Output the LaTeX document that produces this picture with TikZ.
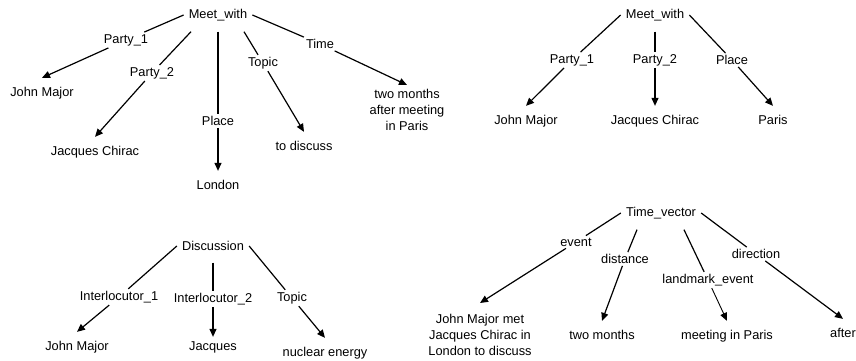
\documentclass[tikz,border=0pt]{standalone}
\usepackage{fontspec}
\setmainfont{Liberation Sans}
\usepackage{tikz}
\usetikzlibrary{arrows.meta}
\tikzset{
  head/.style={inner xsep=5pt, minimum height=33pt},
  role/.style={inner sep=2pt},
  filler/.style={text height=9.2pt, text depth=2.7pt, inner xsep=2pt, inner ysep=9pt},
  block/.style={align=center, anchor=north, inner xsep=2pt},
  link/.style={line width=1.2pt},
  arc/.style={line width=1.2pt, -{Triangle[length=8pt,width=7pt]}}
}

\begin{document}
\begin{tikzpicture}[x=1pt, y=-1pt, font=\fontsize{12.8}{16}\selectfont]
  \useasboundingbox (0,0) rectangle (856,361);

  \node[head] (mw1) at (218,15) {Meet\_with};
  \node[role] (p1a) at (126,40) {Party\_1};
  \node[role] (p2a) at (152,73) {Party\_2};
  \node[role] (pla) at (218,121) {Place};
  \node[role] (tpa) at (263,63) {Topic};
  \node[role] (tma) at (320,44) {Time};
  \node[filler] (jma) at (42,93) {John Major};
  \node[filler] (jca) at (95,152) {Jacques Chirac};
  \node[filler] (lon) at (218,186) {London};
  \node[filler] (dis) at (304,147) {to discuss};
  \node[block, inner ysep=4pt] (twoa) at (407,85) {two months\\after meeting\\in Paris};
  \draw[link] (mw1.west) -- (p1a);
  \draw[arc] (p1a) -- (jma.north);
  \draw[link] ([xshift=-27pt]mw1.south) -- (p2a);
  \draw[arc] (p2a) -- (jca.north);
  \draw[link] (mw1.south) -- (pla);
  \draw[arc] (pla) -- (lon.north);
  \draw[link] ([xshift=26pt]mw1.south) -- (tpa);
  \draw[arc] (tpa) -- (dis.north);
  \draw[link] (mw1.east) -- (tma);
  \draw[arc] (tma) -- (twoa.north);

  \node[head] (mw2) at (655,15) {Meet\_with};
  \node[role] (p1b) at (572,60) {Party\_1};
  \node[role] (p2b) at (655,60) {Party\_2};
  \node[role] (plb) at (732,60) {Place};
  \node[filler] (jmb) at (526,121) {John Major};
  \node[filler] (jcb) at (655,121) {Jacques Chirac};
  \node[filler] (par) at (773,121) {Paris};
  \draw[link] (mw2.west) -- (p1b);
  \draw[arc] (p1b) -- (jmb.north);
  \draw[link] (mw2.south) -- (p2b);
  \draw[arc] (p2b) -- (jcb.north);
  \draw[link] (mw2.east) -- (plb);
  \draw[arc] (plb) -- (par.north);

  \node[head] (disc) at (213,246) {Discussion};
  \node[role] (il1) at (119,297) {Interlocutor\_1};
  \node[role] (il2) at (213,299) {Interlocutor\_2};
  \node[role] (tpc) at (292,298) {Topic};
  \node[filler] (jmc) at (77,347) {John Major};
  \node[filler, inner ysep=4pt] (jac) at (213,347) {Jacques};
  \node[filler] (nuc) at (325,353) {nuclear energy};
  \draw[link] (disc.west) -- (il1);
  \draw[arc] (il1) -- (jmc.north);
  \draw[link] (disc.south) -- (il2);
  \draw[arc] (il2) -- (jac.north);
  \draw[link] (disc.east) -- (tpc);
  \draw[arc] (tpc) -- (nuc.north);

  \node[head] (tv) at (661,213) {Time\_vector};
  \node[role] (evt) at (576,242) {event};
  \node[role] (dst) at (625,259) {distance};
  \node[role] (lmk) at (708,280) {landmark\_event};
  \node[role] (dir) at (756,254) {direction};
  \node[block, inner ysep=11pt] (jmm) at (480,303) {John Major met\\Jacques Chirac in\\London to discuss};
  \node[filler] (twob) at (602,336) {two months};
  \node[filler] (mtg) at (727,336) {meeting in Paris};
  \node[filler] (aft) at (843,334) {after};
  \draw[link] (tv.west) -- (evt);
  \draw[arc] (evt) -- (jmm.north);
  \draw[link] ([xshift=-24pt]tv.south) -- (dst);
  \draw[arc] (dst) -- (twob.north);
  \draw[link] ([xshift=23pt]tv.south) -- (lmk);
  \draw[arc, line width=0.9pt] (lmk) -- (mtg.north);
  \draw[link] (tv.east) -- (dir);
  \draw[arc] (dir) -- (aft.north);
\end{tikzpicture}
\end{document}
